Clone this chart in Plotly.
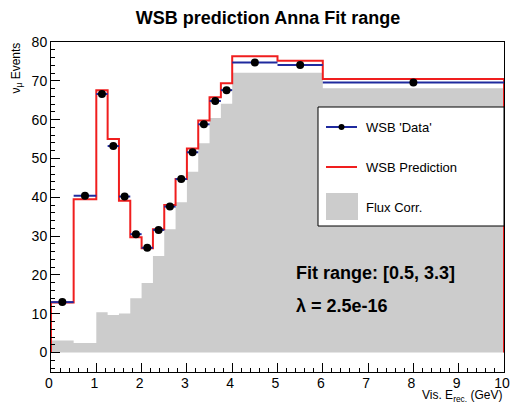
import plotly.graph_objects as go

# Binning in visible reconstructed energy (GeV)
bin_edges = [0.0, 0.5, 1.0, 1.25, 1.5, 1.75, 2.0, 2.25, 2.5, 2.75, 3.0,
             3.25, 3.5, 3.75, 4.0, 5.0, 6.0, 10.0]

# WSB 'Data' per bin
wsb_data = [13.0, 40.4, 66.6, 53.2, 40.2, 30.5, 27.0, 31.6, 37.6, 44.7,
            51.6, 58.8, 64.8, 67.6, 74.7, 74.1, 69.6]

# WSB prediction per bin
wsb_prediction = [12.9, 39.5, 67.6, 55.0, 39.1, 29.7, 26.9, 31.8, 38.0, 44.7,
                  52.6, 59.8, 65.8, 69.4, 76.3, 75.2, 70.5]

# Flux-corrected component per bin
flux_corr = [3.1, 2.5, 10.4, 9.7, 10.1, 14.0, 17.9, 24.9, 31.8, 38.7,
             46.6, 53.9, 60.4, 64.1, 72.1, 72.1, 68.1]

x_ticks = [0, 1, 2, 3, 4, 5, 6, 7, 8, 9, 10]
y_ticks = [0, 10, 20, 30, 40, 50, 60, 70, 80]

centers = [(a + b) / 2 for a, b in zip(bin_edges[:-1], bin_edges[1:])]
widths = [b - a for a, b in zip(bin_edges[:-1], bin_edges[1:])]
half_widths = [w / 2 for w in widths]

RED = "#f01e1e"
BLUE = "#1f2a9e"
GRAY = "#cccccc"
FONT = "Liberation Sans, Arial, Helvetica, sans-serif"

W, H = 510, 403
ML, MR, MT, MB = 51, 6, 42, 31
PW, PH = W - ML - MR, H - MT - MB


def px(x):
    return (x - ML) / PW


def py(y):
    return (H - MB - y) / PH


def step_points(values):
    """Outline of a histogram: up from zero at the first edge, down at the last."""
    xs = [bin_edges[0]] + bin_edges[:-1] + [bin_edges[-1], bin_edges[-1]]
    ys = [0] + list(values) + [values[-1], 0]
    return xs, ys


fig = go.Figure()

# Flux correction histogram (filled step, no seams between bins)
fx, fy = step_points(flux_corr)
fig.add_trace(go.Scatter(
    x=fx, y=fy, mode="lines", line=dict(color=GRAY, width=0, shape="hv"),
    fill="toself", fillcolor=GRAY, showlegend=False, hoverinfo="skip",
))

# Prediction histogram outline
sx, sy = step_points(wsb_prediction)
fig.add_trace(go.Scatter(
    x=sx, y=sy, mode="lines", line=dict(color=RED, width=2, shape="hv"),
    showlegend=False,
))

# Data points with bin-width bars
fig.add_trace(go.Scatter(
    x=centers, y=wsb_data, mode="markers",
    marker=dict(color="black", size=8),
    error_x=dict(type="data", array=half_widths, color=BLUE, thickness=2, width=0),
    showlegend=False,
))

shapes = []
annotations = []

# Legend box
lx0, lx1, ly0, ly1 = 318, 504, 107, 226
shapes.append(dict(type="rect", xref="paper", yref="paper",
                   x0=px(lx0), x1=px(lx1), y0=py(ly1), y1=py(ly0),
                   fillcolor="white", line=dict(color="black", width=1), layer="above"))
# Data entry
shapes.append(dict(type="line", xref="paper", yref="paper",
                   x0=px(326), x1=px(357), y0=py(127), y1=py(127),
                   line=dict(color=BLUE, width=2), layer="above"))
shapes.append(dict(type="circle", xref="paper", yref="paper",
                   x0=px(338.5), x1=px(344.5), y0=py(130), y1=py(124),
                   fillcolor="black", line=dict(color="black", width=0), layer="above"))
# Prediction entry
shapes.append(dict(type="line", xref="paper", yref="paper",
                   x0=px(326), x1=px(357), y0=py(167), y1=py(167),
                   line=dict(color=RED, width=2), layer="above"))
# Flux entry
shapes.append(dict(type="rect", xref="paper", yref="paper",
                   x0=px(326), x1=px(358), y0=py(220), y1=py(193),
                   fillcolor=GRAY, line=dict(width=0), layer="above"))

for label, yy in [("WSB 'Data'", 127), ("WSB Prediction", 167), ("Flux Corr.", 207)]:
    annotations.append(dict(text=label, xref="paper", yref="paper",
                            x=px(364), y=py(yy), xanchor="left", yanchor="middle",
                            showarrow=False, font=dict(family=FONT, size=13, color="black")))

# Fit info text
annotations.append(dict(text="<b>Fit range: [0.5, 3.3]</b>", xref="paper", yref="paper",
                        x=px(294), y=py(273), xanchor="left", yanchor="middle",
                        showarrow=False, font=dict(family=FONT, size=18, color="black")))
annotations.append(dict(text="<b>λ = 2.5e-16</b>", xref="paper", yref="paper",
                        x=px(294), y=py(306), xanchor="left", yanchor="middle",
                        showarrow=False, font=dict(family=FONT, size=18, color="black")))

# Axis titles
annotations.append(dict(text="ν<sub>μ</sub> Events", xref="paper", yref="paper",
                        x=px(16), y=py(41), xanchor="center", yanchor="top",
                        textangle=-90, showarrow=False,
                        font=dict(family=FONT, size=12, color="black")))
annotations.append(dict(text="Vis. E<sub>rec.</sub> (GeV)", xref="paper", yref="paper",
                        x=px(504), y=py(386), xanchor="right", yanchor="top",
                        showarrow=False, font=dict(family=FONT, size=12, color="black")))

fig.update_layout(
    width=W, height=H,
    margin=dict(l=ML, r=MR, t=MT, b=MB, autoexpand=False),
    paper_bgcolor="white", plot_bgcolor="white",
    title=dict(text="<b>WSB prediction Anna Fit range</b>", x=268 / W, xanchor="center",
               y=1 - 18 / H, yanchor="middle", xref="container", yref="container",
               font=dict(family=FONT, size=18, color="black")),
    shapes=shapes, annotations=annotations,
    showlegend=False,
)

fig.update_xaxes(
    range=[0, 10], tickvals=x_ticks, ticks="inside", ticklen=9, tickcolor="black",
    minor=dict(dtick=0.2, ticks="inside", ticklen=4, tickcolor="black"),
    showgrid=False, zeroline=False, showline=True, linecolor="black", linewidth=1,
    mirror=True, ticklabelstandoff=-2, ticklabelshift=-2, ticklabeloverflow="allow",
    automargin=False,
    tickfont=dict(family=FONT, size=14, color="black"),
)
fig.update_yaxes(
    range=[-5, 80], tickvals=y_ticks, ticks="inside", ticklen=9, tickcolor="black",
    minor=dict(dtick=2, ticks="inside", ticklen=4, tickcolor="black"),
    showgrid=False, zeroline=False, showline=True, linecolor="black", linewidth=1,
    mirror=True, automargin=False,
    tickfont=dict(family=FONT, size=14, color="black"),
)

fig.write_html("out.html")
